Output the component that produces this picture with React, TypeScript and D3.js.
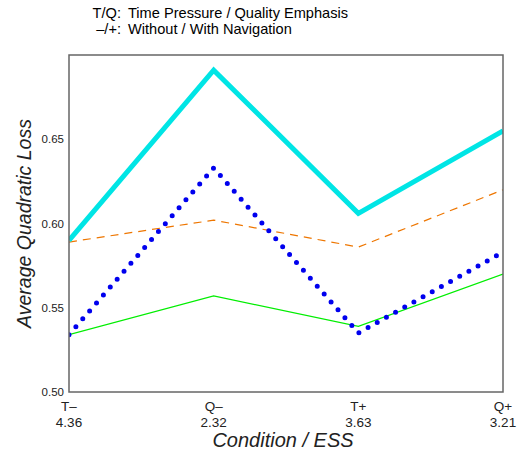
import React from "react";
import * as d3 from "d3";

const categories = ["T–", "Q–", "T+", "Q+"];
const essLabels = ["4.36", "2.32", "3.63", "3.21"];
const yTicks = [0.5, 0.55, 0.6, 0.65];
const seriesCyan = [0.590, 0.691, 0.606, 0.655];
const seriesOrange = [0.589, 0.602, 0.586, 0.620];
const seriesBlue = [0.534, 0.633, 0.535, 0.583];
const seriesGreen = [0.534, 0.557, 0.539, 0.570];

const W = 524, H = 454;
const left = 69, right = 503, top = 55, bottom = 392;
const font = "'Liberation Sans', Arial, Helvetica, sans-serif";

export default function App() {
  const x = d3.scalePoint<string>().domain(categories).range([left, right]);
  const y = d3.scaleLinear().domain([0.5, 0.7]).range([bottom, top]);
  const line = d3.line<number>().x((_, i) => x(categories[i]) as number).y((d) => y(d));

  const series = [
    { data: seriesOrange, color: "#EE7600", width: 1.2, dash: "8 6", cap: "butt" },
    { data: seriesGreen, color: "#00EE00", width: 1.2, dash: undefined, cap: "butt" },
    { data: seriesCyan, color: "#00E5E5", width: 5, dash: undefined, cap: "butt" },
    { data: seriesBlue, color: "#0000EE", width: 5, dash: "0 10.5", cap: "round" },
  ];

  return (
    <svg width={W} height={H} style={{ position: "absolute", left: 0, top: 0 }} fontFamily={font}>
      <rect x={0} y={0} width={W} height={H} fill="#fff" />
      <text x={121} y={17.5} fontSize={14.6} textAnchor="end">T/Q:</text>
      <text x={128} y={17.5} fontSize={14.6}>Time Pressure / Quality Emphasis</text>
      <text x={121} y={33.5} fontSize={14.6} textAnchor="end">–/+:</text>
      <text x={128} y={33.5} fontSize={14.6}>Without / With Navigation</text>

      <defs>
        <clipPath id="plotclip">
          <rect x={left} y={top} width={right - left} height={bottom - top} />
        </clipPath>
      </defs>
      <g clipPath="url(#plotclip)">
        {series.map((s, i) => (
          <path
            key={i}
            d={line(s.data) || ""}
            fill="none"
            stroke={s.color}
            strokeWidth={s.width}
            strokeDasharray={s.dash}
            strokeLinecap={s.cap as any}
            strokeLinejoin="miter"
          />
        ))}
      </g>
      <rect x={left} y={top} width={right - left} height={bottom - top} fill="none" stroke="#666" strokeWidth={1.5} />

      {yTicks.map((t) => (
        <text key={t} x={64} y={y(t) + 4} fontSize={11.5} textAnchor="end" fill="#222">
          {t.toFixed(2)}
        </text>
      ))}
      {categories.map((c, i) => (
        <g key={c}>
          <text x={x(c)} y={411} fontSize={13.5} textAnchor="middle" fill="#222">{c}</text>
          <text x={x(c)} y={427} fontSize={13.5} textAnchor="middle" fill="#222">{essLabels[i]}</text>
        </g>
      ))}
      <text x={283} y={447} fontSize={20} fontStyle="italic" textAnchor="middle" fill="#222">
        Condition / ESS
      </text>
      <text
        transform={`translate(31, ${(top + bottom) / 2}) rotate(-90)`}
        fontSize={19.5}
        fontStyle="italic"
        textAnchor="middle"
        fill="#222"
      >
        Average Quadratic Loss
      </text>
    </svg>
  );
}
